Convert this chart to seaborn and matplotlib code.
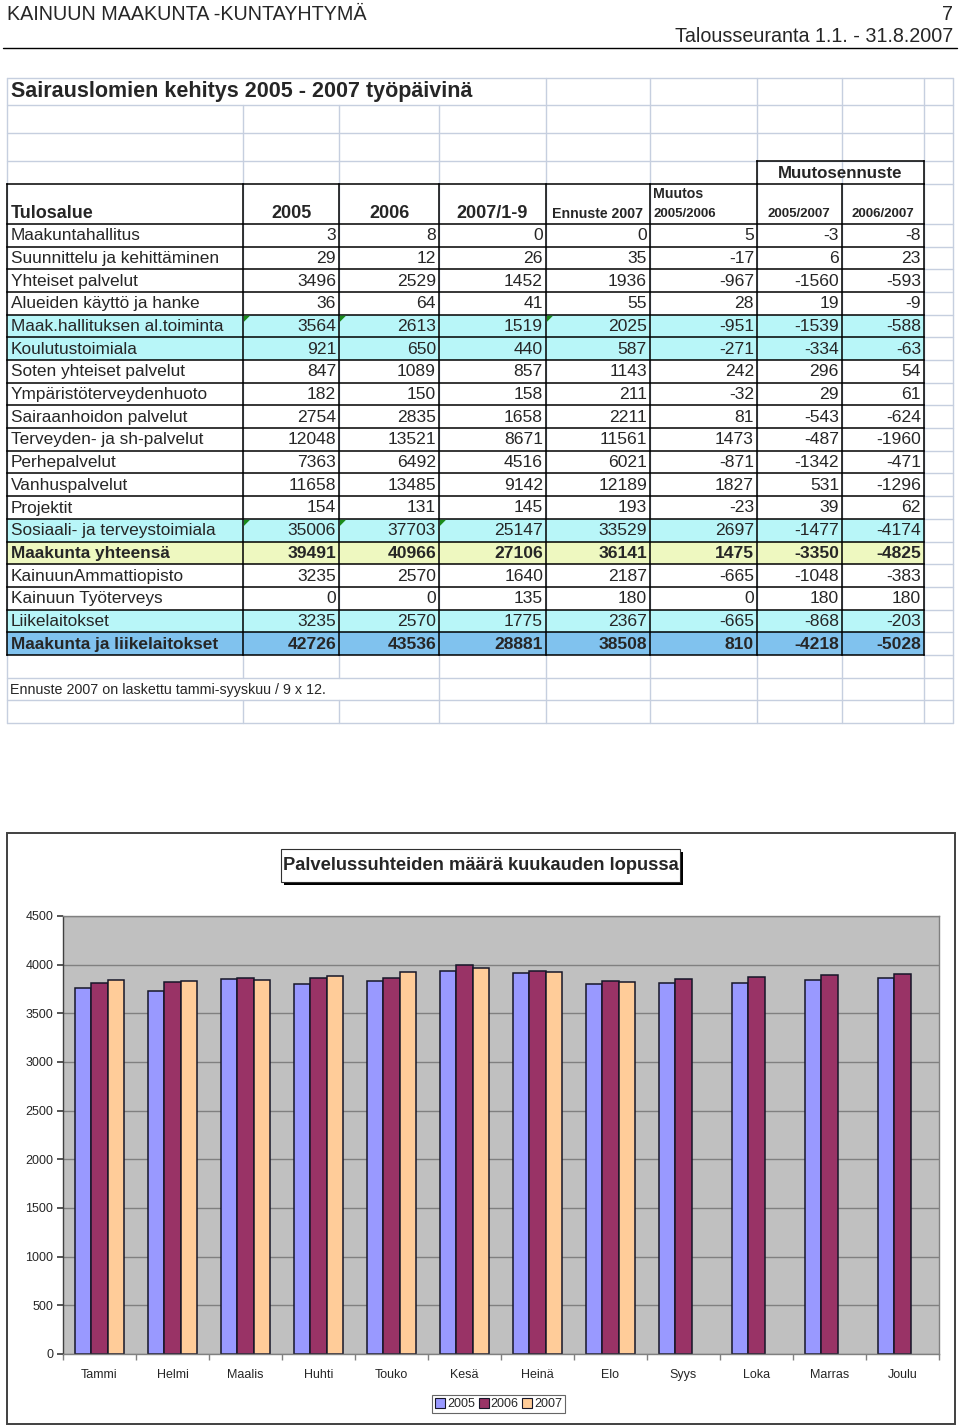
import numpy as np
import pandas as pd
import matplotlib
matplotlib.use("Agg")
import matplotlib.pyplot as plt
import seaborn as sns
from matplotlib.patches import Rectangle, Polygon, Patch

# ---------------- data ----------------
months = ["Tammi", "Helmi", "Maalis", "Huhti", "Touko", "Kesä",
          "Heinä", "Elo", "Syys", "Loka", "Marras", "Joulu"]
years = ["2005", "2006", "2007"]
staff_2005 = [3761, 3730, 3853, 3805, 3829, 3931, 3911, 3798, 3815, 3808, 3839, 3863]
staff_2006 = [3808, 3822, 3860, 3860, 3866, 3997, 3935, 3832, 3856, 3873, 3890, 3904]
staff_2007 = [3839, 3836, 3839, 3887, 3928, 3962, 3925, 3822]

row_names = ["Maakuntahallitus", "Suunnittelu ja kehittäminen", "Yhteiset palvelut",
             "Alueiden käyttö ja hanke", "Maak.hallituksen al.toiminta", "Koulutustoimiala",
             "Soten yhteiset palvelut", "Ympäristöterveydenhuoto", "Sairaanhoidon palvelut",
             "Terveyden- ja sh-palvelut", "Perhepalvelut", "Vanhuspalvelut", "Projektit",
             "Sosiaali- ja terveystoimiala", "Maakunta yhteensä", "KainuunAmmattiopisto",
             "Kainuun Työterveys", "Liikelaitokset", "Maakunta ja liikelaitokset"]
col_2005 = [3, 29, 3496, 36, 3564, 921, 847, 182, 2754, 12048, 7363, 11658, 154, 35006, 39491, 3235, 0, 3235, 42726]
col_2006 = [8, 12, 2529, 64, 2613, 650, 1089, 150, 2835, 13521, 6492, 13485, 131, 37703, 40966, 2570, 0, 2570, 43536]
col_2007_1_9 = [0, 26, 1452, 41, 1519, 440, 857, 158, 1658, 8671, 4516, 9142, 145, 25147, 27106, 1640, 135, 1775, 28881]
col_ennuste = [0, 35, 1936, 55, 2025, 587, 1143, 211, 2211, 11561, 6021, 12189, 193, 33529, 36141, 2187, 180, 2367, 38508]
col_muutos_0506 = [5, -17, -967, 28, -951, -271, 242, -32, 81, 1473, -871, 1827, -23, 2697, 1475, -665, 0, -665, 810]
col_ennuste_0507 = [-3, 6, -1560, 19, -1539, -334, 296, 29, -543, -487, -1342, 531, 39, -1477, -3350, -1048, 180, -868, -4218]
col_ennuste_0607 = [-8, 23, -593, -9, -588, -63, 54, 61, -624, -1960, -471, -1296, 62, -4174, -4825, -383, 180, -203, -5028]

# ---------------- figure ----------------
sns.set_theme(style="white")
plt.rcParams["font.family"] = ["Liberation Sans", "DejaVu Sans"]
NARROW = ["Liberation Sans Narrow", "Liberation Sans", "DejaVu Sans"]

W, H = 960, 1427
fig = plt.figure(figsize=(W / 100, H / 100), dpi=100, facecolor="white")
bg = fig.add_axes([0, 0, 1, 1])
bg.set_xlim(0, W)
bg.set_ylim(H, 0)
bg.axis("off")

# page header
bg.text(7, 14, "KAINUUN MAAKUNTA -KUNTAYHTYMÄ", family=NARROW, fontsize=14.2, ha="left", va="center")
bg.text(953, 14, "7", family=NARROW, fontsize=14.2, ha="right", va="center")
bg.text(953, 36, "Talousseuranta 1.1. - 31.8.2007", family=NARROW, fontsize=14.2, ha="right", va="center")
bg.plot([3, 957], [48, 48], color="black", lw=1.0)

# ---------------- table ----------------
cols_x = [7, 243, 339, 439, 546, 650, 757, 842, 924, 953]
row_top = 224
row_h = 22.68
n_rows = len(row_names)
table_bottom = row_top + n_rows * row_h
grid_c = "#c6cfdf"

fills = {4: "#b8f6f8", 5: "#b8f6f8", 13: "#b8f6f8", 17: "#b8f6f8",
         14: "#eef8c0", 18: "#80c2ee"}
for i, c in fills.items():
    bg.add_patch(Rectangle((cols_x[0], row_top + i * row_h), cols_x[8] - cols_x[0], row_h,
                           facecolor=c, edgecolor="none", zorder=1))

# light spreadsheet grid
for y in [78, 105, 133, 161, table_bottom + row_h, table_bottom + 2 * row_h, table_bottom + 3 * row_h]:
    bg.plot([7, 953], [y, y], color=grid_c, lw=1.0, zorder=0.5)
for i in range(n_rows + 1):
    y = row_top + i * row_h
    bg.plot([924, 953], [y, y], color=grid_c, lw=1.0, zorder=0.5)
bg.plot([924, 953], [184, 184], color=grid_c, lw=1.0, zorder=0.5)
for x in cols_x:
    segs = [(78, table_bottom + 3 * row_h)]
    if x in (243, 339, 439):
        segs = [(105, table_bottom + 3 * row_h)]
    if x in (243, 339):
        segs = [(105, table_bottom + row_h), (table_bottom + 2 * row_h, table_bottom + 3 * row_h)]
    for a, b in segs:
        bg.plot([x, x], [a, b], color=grid_c, lw=1.0, zorder=0.5)

# black table lines
blk = dict(color="black", lw=1.1, zorder=3, solid_capstyle="projecting")
bg.plot([7, 924], [184, 184], **blk)
bg.plot([757, 924], [161, 161], **blk)
for i in range(n_rows + 1):
    y = row_top + i * row_h
    bg.plot([7, 924], [y, y], **blk)
for x in cols_x[:9]:
    bg.plot([x, x], [184, table_bottom], **blk)
for x in (757, 924):
    bg.plot([x, x], [161, 184], **blk)

# green indicator triangles
for i, xs in {4: [243, 339, 546], 13: [243, 339, 439]}.items():
    for x in xs:
        y = row_top + i * row_h
        bg.add_patch(Polygon([[x + 1, y + 1], [x + 7, y + 1], [x + 1, y + 7]],
                             closed=True, facecolor="#1a8a1a", edgecolor="none", zorder=4))

# table title & headers
bg.text(11, 92, "Sairauslomien kehitys 2005 - 2007 työpäivinä", fontsize=15.5,
        fontweight="bold", ha="left", va="center", family=NARROW, zorder=5)
bg.text(11, 213, "Tulosalue", fontsize=13, fontweight="bold", ha="left", va="center", family=NARROW)
bg.text(291, 213, "2005", fontsize=13, fontweight="bold", ha="center", va="center", family=NARROW)
bg.text(389, 213, "2006", fontsize=13, fontweight="bold", ha="center", va="center", family=NARROW)
bg.text(492, 213, "2007/1-9", fontsize=13, fontweight="bold", ha="center", va="center", family=NARROW)
bg.text(597, 214, "Ennuste 2007", fontsize=10.2, fontweight="bold", ha="center", va="center")
bg.text(653, 194, "Muutos", fontsize=10.2, fontweight="bold", ha="left", va="center")
bg.text(653, 214, "2005/2006", fontsize=9.5, fontweight="bold", ha="left", va="center")
bg.text(799, 214, "2005/2007", fontsize=9.5, fontweight="bold", ha="center", va="center")
bg.text(883, 214, "2006/2007", fontsize=9.5, fontweight="bold", ha="center", va="center")
bg.text(840, 173, "Muutosennuste", fontsize=12.2, fontweight="bold", ha="center", va="center")

value_cols = [col_2005, col_2006, col_2007_1_9, col_ennuste,
              col_muutos_0506, col_ennuste_0507, col_ennuste_0607]
for i, name in enumerate(row_names):
    yc = row_top + i * row_h + row_h / 2 + 0.5
    wt = "bold" if i in (14, 18) else "normal"
    bg.text(11, yc, name, fontsize=12.4, fontweight=wt, ha="left", va="center", family=NARROW, zorder=5)
    for j, col in enumerate(value_cols):
        bg.text(cols_x[j + 2] - 3, yc, str(col[i]), fontsize=12.6, fontweight=wt,
                ha="right", va="center", family=NARROW, zorder=5)

bg.text(10, table_bottom + 1.5 * row_h + 1, "Ennuste 2007 on laskettu tammi-syyskuu / 9 x 12.",
        fontsize=10.3, ha="left", va="center", family=NARROW, zorder=5)

# ---------------- chart ----------------
bg.add_patch(Rectangle((7, 833), 948, 591, facecolor="white", edgecolor="#404040", lw=1.4, zorder=0.2))
bg.add_patch(Rectangle((284, 852), 399, 33, facecolor="black", edgecolor="none", zorder=2))
bg.add_patch(Rectangle((281, 849), 399, 33, facecolor="white", edgecolor="#303030", lw=0.8, zorder=3))
bg.text(480.5, 866, "Palvelussuhteiden määrä kuukauden lopussa", fontsize=13.2,
        fontweight="bold", ha="center", va="center", zorder=4)

records = []
for yr, vals in zip(years, [staff_2005, staff_2006, staff_2007]):
    for m, v in zip(months, vals):
        records.append({"Kuukausi": m, "Vuosi": yr, "Määrä": v})
df = pd.DataFrame(records)

colors = ["#9999ff", "#993366", "#ffcc99"]
ax = fig.add_axes([63 / W, 1 - 1354 / H, (939 - 63) / W, (1354 - 916) / H])
sns.barplot(data=df, x="Kuukausi", y="Määrä", hue="Vuosi", order=months, hue_order=years,
            palette=colors, saturation=1, width=0.66, edgecolor="#161628", linewidth=1.1,
            legend=False, ax=ax, errorbar=None)
ax.set_facecolor("#c0c0c0")
ax.set_xlim(-0.5, 11.5)
ax.set_ylim(0, 4500)
ax.set_yticks(np.arange(0, 4501, 500))
ax.set_axisbelow(True)
ax.yaxis.grid(True, color="#808080", lw=1.0)
ax.xaxis.grid(False)
ax.set_xlabel("")
ax.set_ylabel("")
for s in ["top", "right", "bottom"]:
    ax.spines[s].set_color("#808080")
    ax.spines[s].set_linewidth(1.0)
ax.spines["left"].set_color("#404040")
ax.spines["left"].set_linewidth(1.0)
ax.tick_params(axis="y", length=4, direction="out", color="#404040", labelsize=9, pad=3, left=True)
ax.tick_params(axis="x", which="major", length=0, labelsize=9, pad=11)
ax.set_xticks(np.arange(-0.5, 12, 1), minor=True)
ax.tick_params(axis="x", which="minor", length=4, direction="out", color="#808080", bottom=True)

handles = [Patch(facecolor=c, edgecolor="#161628", lw=0.8, label=y) for c, y in zip(colors, years)]
leg = fig.legend(handles=handles, loc="center", bbox_to_anchor=(498.5 / W, 1 - 1404 / H),
                 bbox_transform=fig.transFigure, ncol=3, fontsize=9, frameon=True, fancybox=False,
                 handlelength=0.8, handleheight=0.8, handletextpad=0.15, columnspacing=0.3,
                 borderpad=0.25, borderaxespad=0)
leg.get_frame().set_edgecolor("#404040")
leg.get_frame().set_linewidth(0.8)

fig.savefig("out.png", dpi=100, facecolor="white")
